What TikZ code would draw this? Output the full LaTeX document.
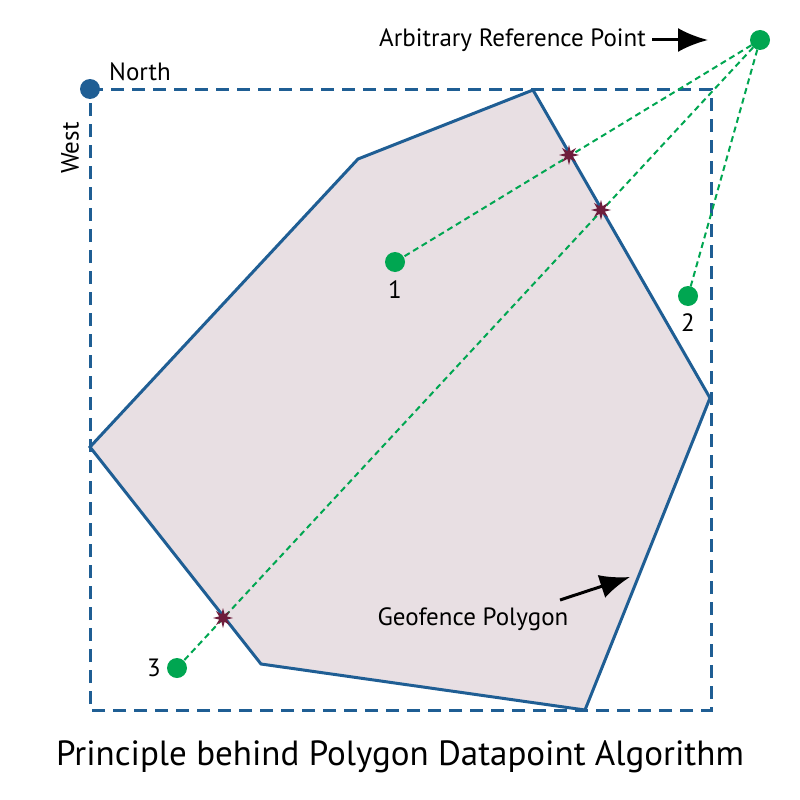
\documentclass[tikz,border=0pt]{standalone}
\usepackage{fontspec}
\setmainfont{PT Sans}
\usetikzlibrary{shapes.geometric,arrows.meta}
\definecolor{fenceblue}{RGB}{31,94,148}
\definecolor{fencefill}{RGB}{232,223,227}
\definecolor{ptgreen}{RGB}{0,166,81}
\definecolor{hitred}{RGB}{110,30,60}
\begin{document}
\begin{tikzpicture}[x=1pt,y=-1pt,
  boxline/.style={fenceblue,line width=3pt,dash pattern=on 13pt off 8pt},
  fenceline/.style={fenceblue,line width=3pt,fill=fencefill,line join=miter},
  ray/.style={ptgreen,line width=2pt,dash pattern=on 6pt off 4pt},
  datapt/.style={circle,fill=ptgreen,inner sep=0pt,minimum size=20pt},
  hit/.style={star,star points=8,star point ratio=2.4,fill=hitred,inner sep=0pt,minimum size=20pt},
  lbl/.style={font=\fontsize{25}{30}\selectfont,inner sep=0pt},
  pointer/.style={-{Latex[length=30pt,width=24pt]},line width=3pt,black}]
\useasboundingbox (0,0) rectangle (800,800);

% bounding box of the fence
\coordinate (nw) at (90,89);
\coordinate (ne) at (711,89);
\coordinate (se) at (711,710);
\coordinate (sw) at (90,710);
\draw[boxline] (nw) -- (ne) -- (se) -- (sw) -- cycle;

% geofence polygon
\coordinate (v1) at (533,90);
\coordinate (v2) at (358,159);
\coordinate (v3) at (90,447);
\coordinate (v4) at (261,664);
\coordinate (v5) at (585,710);
\coordinate (v6) at (710,398);
\draw[fenceline] (v1) -- (v2) -- (v3) -- (v4) -- (v5) -- (v6) -- cycle;

% north-west corner marker
\node[circle,fill=fenceblue,inner sep=0pt,minimum size=20pt] (north) at (90,89) {};
\node[lbl,anchor=west] (northlbl) at (109,72) {North};
\node[lbl,rotate=90] (westlbl) at (70,148) {West};

% reference point and data points
\node[datapt] (ref) at (760,40) {};
\node[datapt] (p1) at (395,262) {};
\node[datapt] (p2) at (688,296) {};
\node[datapt] (p3) at (177,668) {};
\node[lbl] (l1) at (395,290) {1};
\node[lbl] (l2) at (688,323) {2};
\node[lbl] (l3) at (154,668) {3};

% rays from the reference point
\draw[ray] (ref.center) -- (p1.center);
\draw[ray] (ref.center) -- (p2.center);
\draw[ray] (ref.center) -- (p3.center);

% crossings with the fence edges
\node[hit] (x1) at (569,155) {};
\node[hit] (x2) at (601,210) {};
\node[hit] (x3) at (223,618) {};

% labels with pointers
\node[lbl,anchor=east] (reflbl) at (646,40) {Arbitrary Reference Point};
\coordinate (refarrow) at (708,40);
\draw[pointer] (reflbl.east) ++(6,0) -- (refarrow);

\node[lbl] (geolbl) at (473,619) {Geofence Polygon};
\coordinate (geotail) at (560,600);
\coordinate (geohead) at (630,577);
\draw[pointer] (geotail) -- (geohead);

% title
\node[font=\fontsize{35}{41}\selectfont,inner sep=0pt] (title) at (400,757) {Principle behind Polygon Datapoint Algorithm};
\end{tikzpicture}
\end{document}
